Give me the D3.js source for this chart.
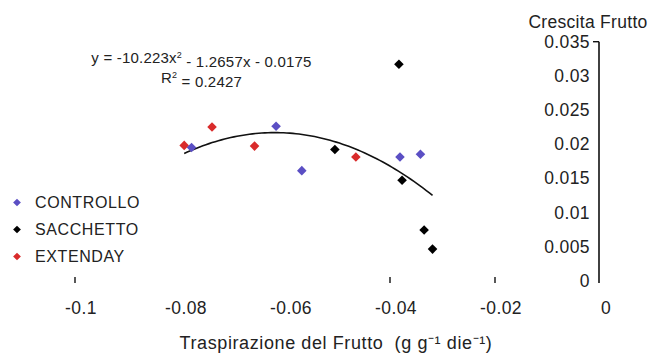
<!DOCTYPE html>
<html><head><meta charset="utf-8">
<script src="https://cdn.jsdelivr.net/npm/d3@7"></script>
<style>
html,body{margin:0;padding:0;background:#fff;}
svg{display:block;font-family:"Liberation Sans",Arial,sans-serif;}
</style></head>
<body><svg id="c" width="662" height="356"></svg>
<script>
// Data
const controlloX = [-0.0778, -0.0617, -0.0568, -0.0381, -0.0342];
const controlloY = [0.0195, 0.0226, 0.0161, 0.0181, 0.0185];
const sacchettoX = [-0.0505, -0.0383, -0.0377, -0.0335, -0.0319];
const sacchettoY = [0.0192, 0.0317, 0.0147, 0.0074, 0.0046];
const extendayX = [-0.0792, -0.0739, -0.0658, -0.0465];
const extendayY = [0.0198, 0.0225, 0.0197, 0.0181];
const seriesNames = ["CONTROLLO", "SACCHETTO", "EXTENDAY"];
const seriesColors = ["#5b4fc4", "#000000", "#d92b2b"];
const xTicks = [-0.1, -0.08, -0.06, -0.04, -0.02, 0];
const xTickLabels = ["-0.1", "-0.08", "-0.06", "-0.04", "-0.02", "0"];
const xTickMarks = [-0.1, -0.04, -0.02];
const yTicks = [0, 0.005, 0.01, 0.015, 0.02, 0.025, 0.03, 0.035];
const yTickLabels = ["0", "0.005", "0.01", "0.015", "0.02", "0.025", "0.03", "0.035"];
const trendCoef = [-10.223, -1.2657, -0.0175]; // a, b, c
const trendRange = [-0.0792, -0.0319];

const svg = d3.select("#c");
const x = d3.scaleLinear().domain([-0.1, 0]).range([75, 600]);
const y = d3.scaleLinear().domain([0, 0.035]).range([280.5, 41.7]);
const axisX = 599;

// Y axis line
svg.append("line").attr("x1", axisX).attr("x2", axisX)
  .attr("y1", y(0.035)).attr("y2", y(0) + 2.5)
  .attr("stroke", "#111").attr("stroke-width", 1.6);
svg.append("line").attr("x1", axisX - 6).attr("x2", axisX)
  .attr("y1", y(0.035)).attr("y2", y(0.035))
  .attr("stroke", "#111").attr("stroke-width", 1.4);
svg.selectAll("text.yl").data(yTicks).enter().append("text")
  .attr("class", "yl")
  .attr("x", 590).attr("y", d => y(d))
  .attr("dy", "0.36em").attr("text-anchor", "end")
  .attr("font-size", 17.5).attr("fill", "#222")
  .attr("letter-spacing", 0.4)
  .text((d, i) => yTickLabels[i]);

// Y title
svg.append("text").attr("x", 588).attr("y", 22).attr("dy", "0.36em")
  .attr("text-anchor", "middle").attr("font-size", 17.5).attr("fill", "#222")
  .attr("letter-spacing", 0.3)
  .text("Crescita Frutto");

// X tick marks
svg.selectAll("line.xt").data(xTickMarks).enter().append("line")
  .attr("class", "xt")
  .attr("x1", d => x(d)).attr("x2", d => x(d))
  .attr("y1", 277).attr("y2", 283)
  .attr("stroke", "#111").attr("stroke-width", 1.4);
svg.selectAll("text.xl").data(xTicks).enter().append("text")
  .attr("class", "xl")
  .attr("x", d => x(d) + 6).attr("y", 307.5)
  .attr("dy", "0.36em").attr("text-anchor", "middle")
  .attr("font-size", 17.5).attr("fill", "#222")
  .attr("letter-spacing", 0.4)
  .text((d, i) => xTickLabels[i]);

// X title
svg.append("text").attr("x", 336).attr("y", 343).attr("dy", "0.36em")
  .attr("text-anchor", "middle").attr("font-size", 18).attr("fill", "#222")
  .attr("letter-spacing", 0.6)
  .text("Traspirazione del Frutto\u00a0 (g g\u207B\u00B9 die\u207B\u00B9)");

// Trend line
const a = trendCoef[0], b = trendCoef[1], c = trendCoef[2];
const xs = d3.range(trendRange[0], trendRange[1] + 1e-9, (trendRange[1] - trendRange[0]) / 80);
svg.append("path")
  .attr("d", d3.line().x(d => x(d)).y(d => y(a * d * d + b * d + c))(xs))
  .attr("fill", "none").attr("stroke", "#111").attr("stroke-width", 1.6);

// Points (rotated squares = diamonds)
const sym = d3.symbol().type(d3.symbolSquare).size(46);
const allSeries = [
  {xs: controlloX, ys: controlloY},
  {xs: sacchettoX, ys: sacchettoY},
  {xs: extendayX, ys: extendayY}
];
const drawOrder = [2, 1, 0];
drawOrder.forEach(si => {
  const s = allSeries[si];
  svg.selectAll(null).data(s.xs.map((v, i) => [v, s.ys[i]])).enter()
    .append("path")
    .attr("d", sym)
    .attr("transform", d => `translate(${x(d[0])},${y(d[1])}) rotate(45)`)
    .attr("fill", seriesColors[si]);
});

// Equation
svg.append("text").attr("x", 201.5).attr("y", 58).attr("dy", "0.36em")
  .attr("text-anchor", "middle").attr("font-size", 15).attr("fill", "#222")
  .attr("letter-spacing", 0.2)
  .html('y = -10.223x<tspan font-size="9" dy="-0.6em">2</tspan><tspan dy="0.6em"> - 1.2657x - 0.0175</tspan>');
svg.append("text").attr("x", 201.5).attr("y", 78).attr("dy", "0.36em")
  .attr("text-anchor", "middle").attr("font-size", 15).attr("fill", "#222")
  .attr("letter-spacing", 0.2)
  .html('R<tspan font-size="9" dy="-0.6em">2</tspan><tspan dy="0.6em"> = 0.2427</tspan>');

// Legend
const lg = svg.append("g");
seriesNames.forEach((n, i) => {
  const yy = 202.5 + i * 27;
  lg.append("path").attr("d", d3.symbol().type(d3.symbolSquare).size(30))
    .attr("transform", `translate(17,${yy}) rotate(45)`).attr("fill", seriesColors[i]);
  lg.append("text").attr("x", 35).attr("y", yy).attr("dy", "0.36em")
    .attr("font-size", 16).attr("fill", "#222").attr("letter-spacing", 0.6)
    .text(n);
});
</script></body></html>
